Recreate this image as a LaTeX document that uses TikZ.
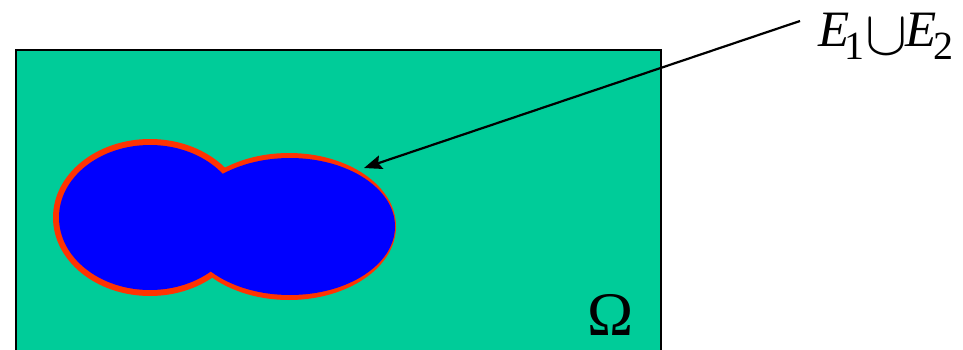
\documentclass[tikz,border=0pt]{standalone}
\usepackage{fontspec}
\setmainfont{Liberation Serif}
\usetikzlibrary{arrows.meta}
\definecolor{omgreen}{HTML}{00CC99}
\definecolor{setblue}{HTML}{0000FF}
\definecolor{setred}{HTML}{FF3300}
\tikzset{
  region/.style={fill=omgreen, draw=black, line width=2pt},
  rim/.style={fill=setred, draw=none},
  core/.style={fill=setblue, draw=none},
  pointer/.style={draw=black, line width=2.2pt, -{Stealth[length=18pt, width=14pt, inset=3pt]}},
  lbl/.style={inner sep=0pt, font=\fontsize{51}{56}\selectfont}
}
\newcommand{\subdig}[1]{\raisebox{-13pt}{\fontsize{40}{44}\selectfont #1}}
\newcommand{\bigcupsym}{\scalebox{6.3}{\fontsize{10}{12}\selectfont$\cup$}}
\begin{document}
\begin{tikzpicture}[x=1pt, y=-1pt]
\useasboundingbox (0,0) rectangle (963,350);
\path[region] (16,50) rectangle (661,360);
% red rims
\path[rim] (150,217.5) ellipse [x radius=97, y radius=78.5];
\path[rim] (289,226.5) ellipse [x radius=107, y radius=73.5];
% blue union
\path[core] (150,217.5) ellipse [x radius=91, y radius=72.5];
\path[core] (290,226.5) ellipse [x radius=105, y radius=68.5];
% labels
\node[lbl, anchor=base west] (e1) at (818,47) {\textit{E}\kern-5pt\subdig{1}};
\node[inner sep=0pt, anchor=center] (cup) at (886,37.5) {\bigcupsym};
\node[lbl, anchor=base west] (e2) at (905,47) {\textit{E}\kern-3pt\subdig{2}};
\node[inner sep=0pt, font=\fontsize{62}{66}\selectfont, anchor=base] (omega) at (610.5,335) {Ω};
% arrow
\coordinate (start) at (800,21);
\coordinate (tip) at (364,168);
\draw[pointer] (start) -- (tip);
\end{tikzpicture}
\end{document}
